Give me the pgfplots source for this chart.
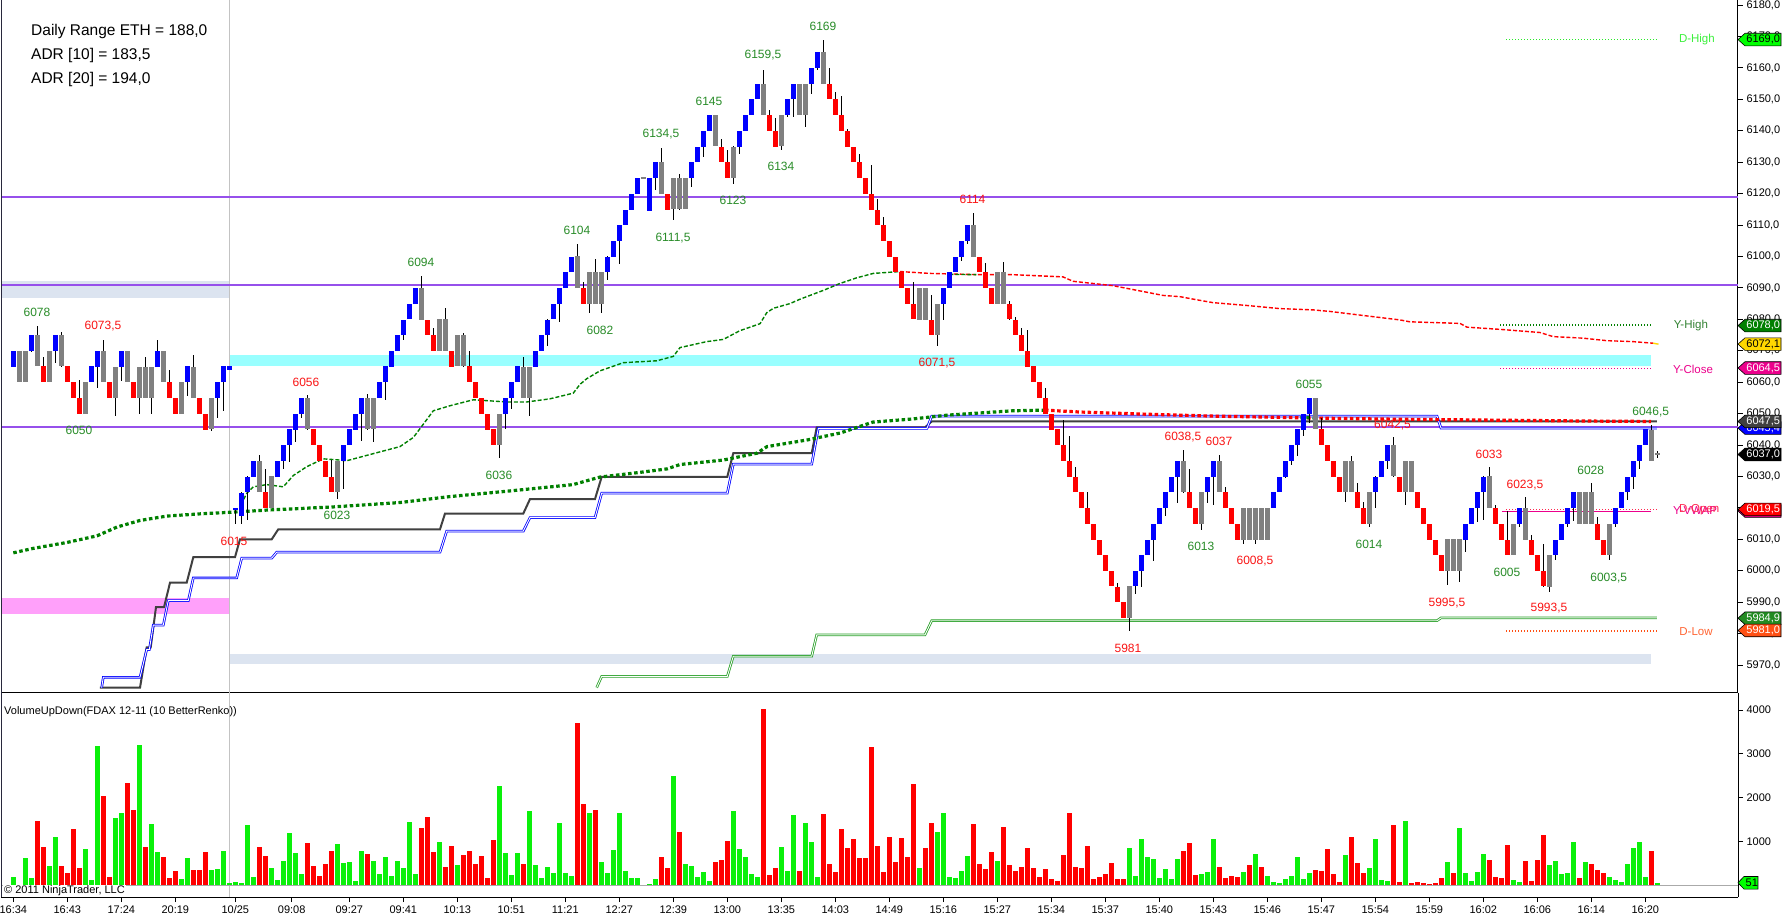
\documentclass[border=0pt]{standalone}
\usepackage{fontspec}
\setmainfont{Liberation Sans}
\usepackage{pgfplots}
\usepackage{pgfplotstable}
\pgfplotsset{compat=1.18}
\definecolor{cblue}{RGB}{0,0,255}
\definecolor{cred}{RGB}{255,0,0}
\definecolor{cgray}{RGB}{128,128,128}
\definecolor{vgreen}{RGB}{10,240,10}
\definecolor{vred}{RGB}{255,0,0}
\definecolor{purp}{RGB}{150,80,235}
\definecolor{lblgreen}{RGB}{40,140,40}
\definecolor{lblred}{RGB}{250,20,20}
\definecolor{dkgreen}{RGB}{0,128,0}
\definecolor{bandcyan}{RGB}{153,255,255}
\definecolor{bandgray}{RGB}{220,228,240}
\definecolor{bandpink}{RGB}{255,160,250}
\definecolor{stepgray}{RGB}{64,64,64}
\definecolor{stepgreen}{RGB}{40,160,40}
\definecolor{lime}{RGB}{0,255,0}
\definecolor{gold}{RGB}{255,215,0}
\definecolor{orred}{RGB}{255,80,20}
\definecolor{fgreen}{RGB}{34,139,34}
\definecolor{borderc}{RGB}{40,40,60}
\pgfplotstableread{
i o c lo hi k v g
0 6065 6070 6065 6070 0 190 1
1 6070 6060 6060 6070 2 0 1
2 6060 6070 6060 6070 2 625 1
3 6070 6075 6069.5 6075 0 168 1
4 6075 6065 6065 6078 2 1463 0
5 6065 6060 6060 6068 1 876 0
6 6060 6070 6060 6070 2 442 1
7 6070 6075 6066.3 6075 0 1105 1
8 6075 6065 6065 6076 2 442 0
9 6065 6060 6060 6065 1 282 0
10 6060 6055 6055 6060 1 1288 0
11 6055 6050 6050 6060.8 1 396 0
12 6050 6060 6050 6060 2 831 1
13 6060 6065 6060 6065 0 122 1
14 6065 6070 6058 6070 0 3185 1
15 6070 6060 6060 6073.5 2 2042 0
16 6060 6055 6055 6060 1 190 0
17 6055 6065 6049.3 6065 2 1539 1
18 6065 6070 6060.6 6070 0 1654 1
19 6070 6060 6060 6070 2 2339 0
20 6060 6055 6055 6060 1 1722 0
21 6055 6065 6050 6065 2 3208 1
22 6065 6055 6055 6068 2 876 0
23 6055 6065 6050 6065 2 1402 1
24 6065 6070 6065 6073.6 0 762 1
25 6070 6060 6060 6070 2 648 0
26 6060 6055 6055 6064 1 168 0
27 6055 6050 6050 6055 1 328 0
28 6050 6060 6050 6060 2 145 1
29 6060 6065 6055.5 6065 0 625 1
30 6065 6055 6055 6068.7 2 351 0
31 6055 6050 6050 6055 1 351 0
32 6050 6045 6045 6050 1 762 0
33 6045 6055 6044.5 6055 2 351 1
34 6055 6060 6048.5 6060 0 373 1
35 6060 6065 6051 6065 0 785 1
36 6064 6065 6064 6065 0 53 1
37 6019.5 6020 6015 6020 0 76 1
38 6017.5 6025 6015 6025 0 53 1
39 6025 6030 6016 6030 0 1379 1
40 6030 6035 6030 6035 0 190 1
41 6035 6025 6025 6037 2 876 0
42 6025 6020 6020 6032.5 1 671 0
43 6020 6030 6020 6030 2 396 1
44 6030 6035 6030 6035 0 122 1
45 6035 6040 6032.5 6040 0 556 1
46 6040 6045 6034.6 6045 0 1196 1
47 6045 6050 6041 6050 0 739 1
48 6050 6055 6048.8 6055 0 259 1
49 6055 6045 6045 6056 2 968 0
50 6045 6040 6040 6045 1 442 0
51 6040 6035 6035 6040 1 213 0
52 6035 6030 6030 6035 1 488 0
53 6030 6025 6025 6035.3 1 785 0
54 6025 6035 6023 6035 2 945 1
55 6035 6040 6026 6040 0 511 1
56 6040 6045 6040 6045 0 533 1
57 6045 6050 6045 6050 0 99 1
58 6050 6055 6041.5 6055 0 785 1
59 6055 6045 6045 6056.4 2 716 0
60 6045 6055 6041 6055 2 556 1
61 6055 6060 6055 6060 0 259 1
62 6060 6065 6054.5 6065 0 648 1
63 6065 6070 6065 6070 0 213 1
64 6070 6075 6070 6075 0 556 1
65 6075 6080 6073.6 6080 0 396 1
66 6080 6085 6080 6085 0 1448 1
67 6085 6090 6085 6090 0 259 1
68 6090 6080 6080 6094 2 1311 0
69 6080 6075 6075 6080 1 1562 0
70 6075 6070 6070 6077.2 1 762 0
71 6070 6080 6070 6080 2 991 1
72 6080 6070 6070 6083.5 2 419 0
73 6070 6065 6065 6070 1 899 0
74 6065 6075 6065 6075 2 465 1
75 6075 6065 6065 6075.8 2 693 0
76 6065 6060 6060 6070 1 785 0
77 6060 6055 6055 6060 1 488 0
78 6055 6050 6050 6055 1 671 0
79 6050 6045 6045 6050 1 168 0
80 6045 6040 6040 6045 1 1036 0
81 6040 6050 6036 6050 2 2271 1
82 6050 6055 6045.3 6055 0 732 1
83 6055 6060 6051.6 6060 0 236 1
84 6060 6065 6060 6065 0 732 1
85 6065 6055 6055 6068 2 488 0
86 6055 6065 6049.3 6065 2 1699 1
87 6065 6070 6065 6070 0 465 1
88 6070 6075 6070 6075 0 168 1
89 6075 6080 6071.5 6080 0 419 1
90 6080 6085 6080 6085 0 282 1
91 6085 6090 6079.3 6090 0 1425 1
92 6090 6095 6090 6095 0 282 1
93 6095 6100 6095 6100 0 213 1
94 6100 6090 6090 6104 2 3711 0
95 6090 6085 6085 6092 1 1859 0
96 6085 6095 6082 6095 2 1654 1
97 6095 6085 6085 6099.2 2 1722 0
98 6085 6095 6082 6095 2 533 1
99 6095 6100 6092.4 6100 0 282 1
100 6100 6105 6100 6105 0 808 1
101 6105 6110 6097.8 6110 0 1654 1
102 6110 6115 6110 6115 0 328 1
103 6115 6120 6115 6120 0 168 1
104 6120 6125 6120 6125 0 168 1
105 6125 6125.3 6125 6125.3 2 0 1
106 6114.5 6125 6114.5 6125 0 30 1
107 6125 6130 6121.2 6130 0 145 1
108 6130 6120 6120 6134.5 2 648 0
109 6120 6115 6115 6120 1 396 0
110 6115 6125 6111.5 6125 2 2499 1
111 6125 6115 6115 6126.2 2 1219 0
112 6115 6125 6115 6125 2 488 1
113 6125 6130 6121.9 6130 0 442 1
114 6130 6135 6130 6135 0 190 1
115 6135 6140 6131.6 6140 0 305 1
116 6140 6145 6140 6145 0 99 1
117 6145 6135 6135 6145 2 533 0
118 6135 6130 6130 6137.6 1 579 0
119 6130 6125 6125 6134 1 1013 0
120 6125 6135 6123 6135 2 1699 1
121 6135 6140 6132.6 6140 0 831 1
122 6140 6145 6140 6145 0 648 1
123 6145 6150 6145 6150 0 259 1
124 6150 6155 6150 6155 0 190 1
125 6155 6145 6145 6159.5 2 4031 0
126 6145 6140 6140 6146.8 1 236 0
127 6140 6135 6135 6144 1 396 0
128 6135 6145 6134 6145 2 876 1
129 6145 6150 6144.6 6150 0 328 1
130 6150 6155 6144.4 6155 0 1608 1
131 6155 6145 6145 6155 2 328 0
132 6145 6155 6141.4 6155 2 1425 1
133 6155 6160 6151.7 6160 0 991 1
134 6160 6165 6159.5 6165 0 190 1
135 6165 6155 6155 6169 2 1631 0
136 6155 6150 6150 6160 1 488 0
137 6150 6145 6145 6152.4 1 305 0
138 6145 6140 6140 6151 1 1288 0
139 6140 6135 6135 6140.4 1 853 0
140 6135 6130 6130 6135 1 1059 0
141 6130 6125 6125 6132.6 1 625 0
142 6125 6120 6120 6125 1 625 0
143 6120 6115 6115 6129 1 3162 0
144 6115 6110 6110 6118.3 1 899 0
145 6110 6105 6105 6112.7 1 305 0
146 6105 6100 6100 6105 1 1105 0
147 6100 6095 6095 6100 1 533 0
148 6095 6090 6090 6095 1 1082 0
149 6090 6085 6085 6090 1 648 0
150 6085 6080 6080 6092 1 2316 0
151 6080 6090 6080 6090 2 396 1
152 6090 6080 6080 6090 2 853 0
153 6080 6075 6075 6087.8 1 1425 0
154 6075 6085 6071.5 6085 2 1219 1
155 6085 6090 6080 6090 0 1654 1
156 6090 6095 6090 6095 0 190 1
157 6095 6100 6095 6100 0 168 1
158 6100 6105 6098.5 6105 0 328 1
159 6105 6110 6104.2 6110 0 671 1
160 6110 6100 6100 6114 2 1402 0
161 6100 6095 6095 6100 1 488 0
162 6095 6090 6090 6097.8 1 373 0
163 6090 6085 6085 6090 1 762 0
164 6085 6095 6085 6095 2 556 1
165 6095 6085 6085 6098.5 2 1334 0
166 6085 6080 6080 6086.1 1 465 0
167 6080 6075 6075 6080.8 1 328 0
168 6075 6070 6070 6077.2 1 419 0
169 6070 6065 6065 6076.5 1 853 0
170 6065 6060 6060 6065 1 396 0
171 6060 6055 6055 6060 1 190 0
172 6055 6050 6050 6058.3 1 373 0
173 6050 6045 6045 6050 1 145 0
174 6045 6040 6040 6045 1 99 0
175 6040 6035 6035 6048 1 693 0
176 6035 6030 6030 6043 1 1654 0
177 6030 6025 6025 6033 1 419 0
178 6025 6020 6020 6025 1 396 0
179 6020 6015 6015 6025.3 1 899 0
180 6015 6010 6010 6015 1 145 0
181 6010 6005 6005 6010 1 190 0
182 6005 6000 6000 6005 1 259 0
183 6000 5995 5995 6000 1 511 0
184 5995 5990 5990 5996.2 1 145 0
185 5990 5985 5985 5990 1 145 0
186 5985 5995 5981 5995 2 853 1
187 5995 6000 5992.7 6000 0 213 1
188 6000 6005 5994.8 6005 0 1059 1
189 6005 6010 6005 6010 0 648 1
190 6010 6015 6003.3 6015 0 602 1
191 6015 6020 6015 6020 0 168 1
192 6020 6025 6017.5 6025 0 373 1
193 6025 6030 6025 6030 0 145 1
194 6030 6035 6021.8 6035 0 602 1
195 6035 6025 6025 6038.5 2 785 0
196 6025 6020 6020 6032.4 1 968 0
197 6020 6015 6015 6020 1 236 0
198 6015 6025 6013 6025 2 259 1
199 6025 6030 6021.8 6030 0 305 1
200 6030 6035 6021.1 6035 0 1059 1
201 6035 6025 6025 6037 2 419 0
202 6025 6020 6020 6026.8 1 168 0
203 6020 6015 6015 6020 1 213 0
204 6015 6010 6010 6015 1 190 0
205 6010 6020 6008.5 6020 2 305 1
206 6020 6010 6010 6020 2 465 0
207 6010 6020 6008.5 6020 2 716 1
208 6020 6010 6010 6020 2 419 0
209 6010 6020 6010 6020 2 213 1
210 6020 6025 6020 6025 0 76 1
211 6025 6030 6025 6030 0 53 1
212 6030 6035 6029.6 6035 0 145 1
213 6035 6040 6033.9 6040 0 213 1
214 6040 6045 6036.7 6045 0 648 1
215 6045 6050 6043 6050 0 145 1
216 6050 6055 6046.9 6055 0 282 1
217 6055 6045 6045 6055 2 351 0
218 6045 6040 6040 6048.5 1 328 0
219 6040 6035 6035 6040 1 831 0
220 6035 6030 6030 6035 1 259 0
221 6030 6025 6025 6030 1 76 0
222 6025 6035 6022 6035 2 693 1
223 6035 6025 6025 6036.5 2 1105 0
224 6025 6020 6020 6027.8 1 511 0
225 6020 6015 6015 6022 1 282 0
226 6015 6025 6014 6025 2 396 1
227 6025 6030 6020 6030 0 1059 1
228 6030 6035 6030 6035 0 122 1
229 6035 6040 6032.6 6040 0 99 1
230 6040 6030 6030 6042.5 2 1379 0
231 6030 6025 6025 6030 1 76 0
232 6025 6035 6021 6035 2 1471 1
233 6035 6025 6025 6035 2 53 0
234 6025 6020 6020 6025 1 69 0
235 6020 6015 6015 6020 1 46 0
236 6015 6010 6010 6015 1 23 0
237 6010 6005 6005 6010 1 46 0
238 6005 6000 6000 6005 1 160 0
239 6000 6010 5995.5 6010 2 526 1
240 6010 6000 6000 6010 2 274 0
241 6000 6010 5996.5 6010 2 1303 1
242 6010 6015 6006 6015 0 274 1
243 6015 6020 6015 6020 0 91 1
244 6020 6025 6015.5 6025 0 297 1
245 6025 6030 6016 6030 0 709 1
246 6030 6020 6020 6033 2 572 0
247 6020 6015 6015 6021 1 183 0
248 6015 6010 6010 6015 1 160 0
249 6010 6005 6005 6019 1 914 0
250 6005 6015 6005 6015 2 114 1
251 6015 6020 6014 6020 0 69 1
252 6020 6010 6010 6023.5 2 549 0
253 6010 6005 6005 6011.5 1 91 0
254 6005 6000 6000 6005 1 572 0
255 6000 5995 5995 6008.7 1 1143 0
256 5995 6005 5993.5 6005 2 457 1
257 6005 6010 6003.4 6010 0 549 1
258 6010 6015 6010 6015 0 251 1
259 6015 6020 6014 6020 0 274 1
260 6020 6025 6016 6025 0 983 1
261 6025 6015 6015 6025 2 160 0
262 6015 6025 6015 6025 2 526 1
263 6025 6015 6015 6028 2 480 0
264 6015 6010 6010 6017 1 343 0
265 6010 6005 6005 6010 1 274 0
266 6005 6015 6003.5 6015 2 183 1
267 6015 6020 6014 6020 0 114 1
268 6020 6025 6020 6025 0 69 1
269 6025 6030 6022.5 6030 0 480 1
270 6030 6035 6026 6035 0 846 1
271 6035 6040 6032.5 6040 0 983 1
272 6040 6045 6040 6045 0 183 1
273 6045 6035 6035 6046.5 2 777 0
274 6037 6037.5 6036 6038 2 51 1
}\bars
\newcommand{\pricetag}[4]{%
  \filldraw[fill=#2, draw=black, line width=0.6pt] (#1) -- ++(7pt,6.3pt) -- ++(36pt,0) -- ++(0,-12.6pt) -- ++(-36pt,0) -- cycle;
  \node[anchor=west, text=#3, font=\fontsize{11}{13}\selectfont, inner sep=0pt] at ([xshift=8.2pt]#1) {#4};}
\begin{document}
\begin{tikzpicture}
\useasboundingbox (0pt,0pt) rectangle (1787pt,921pt);
\fill[white] (0pt,0pt) rectangle (1787pt,921pt);
% ================= PRICE PANEL =================
\begin{axis}[at={(1pt,228pt)}, anchor=south west, scale only axis,
  width=1737pt, height=693pt,
  xmin=-2.05, xmax=287.45, ymin=5961.1, ymax=6181.6,
  axis x line*=bottom, axis y line*=right,
  axis line style={-, black, line width=1pt},
  xtick=\empty, ytick={5970,5980,...,6180},
  tick align=outside, major tick length=5pt,
  tick style={black, line width=0.8pt},
  yticklabel style={font=\fontsize{11}{13}\selectfont, /pgf/number format/.cd, fixed, fixed zerofill, precision=1, use comma, 1000 sep={}, assume math mode=true},
  clip mode=individual]
% bands
\addplot[fill=bandgray, draw=none] coordinates {(-2.05,6086.7) (36,6086.7) (36,6092.2) (-2.05,6092.2)} -- cycle;
\addplot[fill=bandpink, draw=none] coordinates {(-2.05,5986.2) (36,5986.2) (36,5991.3) (-2.05,5991.3)} -- cycle;
\addplot[fill=bandcyan, draw=none] coordinates {(36,6065.3) (272.9,6065.3) (272.9,6068.6) (36,6068.6)} -- cycle;
\addplot[fill=bandgray, draw=none] coordinates {(36,5970.4) (272.9,5970.4) (272.9,5973.5) (36,5973.5)} -- cycle;
% separator
\addplot[draw={rgb,255:red,195;green,195;blue,195}, line width=1pt] coordinates {(36,5961.1) (36,6181.6)};
% purple levels
\addplot[draw=purp, line width=2.2pt] coordinates {(-2.05,6118.8) (287.45,6118.8)};
\addplot[draw=purp, line width=2.2pt] coordinates {(-2.05,6090.8) (287.45,6090.8)};
\addplot[draw=purp, line width=2.2pt] coordinates {(-2.05,6045.8) (287.45,6045.8)};
% step lines
\addplot[draw=stepgreen, double=white, double distance=0.9pt, line width=0.8pt] coordinates {
(97.23,5962.8) (98.07,5966.4) (119.0,5966.4) (120.0,5972.8) (133.07,5972.8) (133.9,5979.6) (151.95,5979.6) (153.07,5984.1) (237.28,5984.1) (237.95,5985.0) (273.95,5985.0)};
\addplot[draw=stepgray, line width=2pt] coordinates {
(14.45,5962.8) (21.12,5962.8) (22.23,5975.6) (22.9,5975.6) (23.78,5988.4) (25.12,5988.4) (26.12,5996.2) (28.9,5996.2) (30.0,6004.3) (36.95,6004.3) (37.78,6010.0) (43.07,6010.0) (44.17,6013.2) (71.12,6013.2) (71.95,6018.2) (85.0,6018.2) (86.12,6022.8) (96.95,6022.8) (98.07,6029.9) (119.0,6029.9) (120.0,6037.4) (133.07,6037.4) (133.9,6045.6) (151.95,6045.6) (153.07,6047.5) (273.95,6047.5)};
\addplot[draw=cblue, double=white, double distance=0.9pt, line width=0.8pt] coordinates {
(14.73,5962.8) (15.0,5966.1) (21.12,5966.1) (22.23,5974.9) (22.67,5974.9) (23.33,5982.7) (25.0,5982.7) (25.83,5990.5) (29.17,5990.5) (30.0,5997.7) (37.23,5997.7) (38.07,6004.0) (43.07,6004.0) (43.9,6005.9) (71.12,6005.9) (72.23,6012.6) (85.0,6012.6) (86.12,6016.9) (96.95,6016.9) (98.07,6024.7) (119.0,6024.7) (120.0,6033.9) (133.07,6033.9) (134.17,6045.3) (152.28,6045.3) (153.07,6049.2) (237.28,6049.2) (237.95,6045.4) (273.95,6045.4)};
% thick dotted VWAP
\addplot[draw=dkgreen, line width=3.2pt, dash pattern=on 3.5pt off 2.6pt] coordinates {
(0,6005.7) (3.28,6007.1) (8.95,6009.0) (13.95,6011.1) (17.28,6013.9) (21.12,6016.0) (25.62,6017.4) (31.12,6018.1) (36.12,6018.6) (42.28,6019.3) (53.28,6020.3) (64.45,6021.7) (72.78,6023.6) (82.28,6025.3) (93.28,6027.4) (97.78,6029.8) (104.45,6031.3) (108.95,6032.4) (111.12,6033.8) (118.28,6035.2) (123.95,6037.4) (125.62,6039.5) (132.28,6041.6) (137.78,6043.8) (143.28,6047.3) (149.95,6048.3) (155.62,6049.5) (161.12,6050.2) (166.62,6050.9) (171.95,6051.1)};
\addplot[draw=cred, line width=3.2pt, dash pattern=on 3.5pt off 2.6pt] coordinates {
(171.95,6051.1) (177.78,6050.5) (188.95,6049.8) (199.95,6049.2) (211.12,6048.8) (219.45,6048.5) (231.12,6048.2) (247.78,6047.9) (264.45,6047.6) (272.95,6047.5)};
\addplot[draw=dkgreen, line width=3.2pt, dash pattern=on 3.5pt off 2.6pt] coordinates {(214.5,6048.7) (217.5,6048.6)};
% thin dashed session VWAP
\addplot[draw=dkgreen, line width=1.4pt, dash pattern=on 4pt off 2pt] coordinates {
(37.95,6021.0) (38.9,6024.6) (40.0,6026.7) (42.23,6027.4) (45.0,6026.7) (46.67,6030.3) (48.9,6033.1) (51.67,6035.6) (53.9,6035.3) (55.57,6035.0) (58.9,6036.7) (61.67,6038.1) (64.45,6039.5) (66.67,6042.4) (68.33,6046.6) (70.0,6050.9) (72.78,6052.5) (76.67,6054.4) (82.23,6053.7) (85.57,6053.7) (89.45,6054.7) (93.33,6056.5) (94.45,6059.3) (95.57,6061.1) (97.78,6063.6) (101.67,6066.2) (107.23,6066.8) (110.0,6068.2) (111.12,6071.0) (115.57,6072.9) (118.33,6073.6) (121.12,6076.4) (124.45,6078.6) (125.57,6082.1) (126.67,6083.5) (129.45,6085.0) (131.12,6086.4) (135.0,6089.2) (137.78,6091.4) (140.57,6093.2) (143.33,6094.6) (147.78,6095.2)};
\addplot[draw=cred, line width=1.4pt, dash pattern=on 4pt off 2pt] coordinates {
(147.78,6095.2) (152.78,6094.6) (161.12,6094.2) (166.62,6094.2) (174.95,6093.5) (176.62,6092.1) (183.28,6090.7) (188.95,6088.6) (191.62,6087.6) (194.45,6087.2) (197.28,6086.2) (199.95,6085.3) (205.62,6084.4) (211.12,6083.4) (216.62,6083.0) (219.45,6082.5) (231.12,6079.8) (232.78,6079.2) (241.12,6078.7) (242.28,6077.5) (247.78,6076.8) (254.45,6075.8) (256.62,6074.5) (261.62,6074.0) (265.62,6073.2) (269.95,6072.9) (273.28,6072.4)};
\addplot[draw=gold, line width=1.4pt] coordinates {(273.28,6072.4) (274.2,6072.1)};
\addplot[draw=dkgreen, line width=1.4pt, dash pattern=on 4pt off 2pt] coordinates {(156,6094.3) (160.5,6094.2)};
% right side level lines
\addplot[draw={rgb,255:red,40;green,235;blue,40}, line width=1.3pt, dash pattern=on 1.3pt off 1.7pt] coordinates {(248.8,6169) (273.95,6169)};
\addplot[draw=dkgreen, line width=1.3pt, dash pattern=on 1.3pt off 1.7pt] coordinates {(247.8,6078.2) (272.95,6078.2)};
\addplot[draw=magenta, line width=1.3pt, dash pattern=on 1.3pt off 1.7pt] coordinates {(247.8,6064.4) (272.95,6064.4)};
\addplot[draw=magenta, line width=1pt] coordinates {(248.1,6019.0) (272.95,6019.0)};
\addplot[draw={rgb,255:red,255;green,40;blue,80}, line width=1.3pt, dash pattern=on 1.3pt off 1.7pt] coordinates {(248.8,6019.5) (273.95,6019.5)};
\addplot[draw=orred, line width=1.3pt, dash pattern=on 1.3pt off 1.7pt] coordinates {(248.8,5980.8) (273.95,5980.8)};
% wicks
\addplot[draw=none, mark=none, error bars/.cd, y dir=both, y explicit, error mark=none,
  error bar style={draw=black, line width=1.2pt, solid}]
  table[x=i, y expr={(\thisrow{lo}+\thisrow{hi})/2}, y error expr={(\thisrow{hi}-\thisrow{lo})/2}] {\bars};
% bodies (error bar length is zero for bars of other classes)
\addplot[draw=none, mark=none, error bars/.cd, y dir=both, y explicit, error mark=none,
  error bar style={draw=cblue, line width=5pt, solid}]
  table[x=i, y expr={(\thisrow{o}+\thisrow{c})/2}, y error expr={\thisrow{k}==0 ? abs(\thisrow{c}-\thisrow{o})/2 : 0}] {\bars};
\addplot[draw=none, mark=none, error bars/.cd, y dir=both, y explicit, error mark=none,
  error bar style={draw=cred, line width=5pt, solid}]
  table[x=i, y expr={(\thisrow{o}+\thisrow{c})/2}, y error expr={\thisrow{k}==1 ? abs(\thisrow{c}-\thisrow{o})/2 : 0}] {\bars};
\addplot[draw=none, mark=none, error bars/.cd, y dir=both, y explicit, error mark=none,
  error bar style={draw=cgray, line width=5pt, solid}]
  table[x=i, y expr={(\thisrow{o}+\thisrow{c})/2}, y error expr={\thisrow{k}==2 ? abs(\thisrow{c}-\thisrow{o})/2 : 0}] {\bars};
% swing labels
\begin{scope}[every node/.style={font=\fontsize{12}{14}\selectfont, inner sep=0pt}]
\node[text=lblgreen] at (axis cs:3.95,6082.2) {6078};
\node[text=lblred] at (axis cs:14.95,6077.9) {6073,5};
\node[text=lblgreen] at (axis cs:10.95,6044.8) {6050};
\node[text=lblred] at (axis cs:36.78,6009.3) {6015};
\node[text=lblred] at (axis cs:48.78,6060.05) {6056};
\node[text=lblgreen] at (axis cs:53.95,6017.5) {6023};
\node[text=lblgreen] at (axis cs:67.95,6098.1) {6094};
\node[text=lblgreen] at (axis cs:80.95,6030.3) {6036};
\node[text=lblgreen] at (axis cs:97.78,6076.5) {6082};
\node[text=lblgreen] at (axis cs:93.95,6108.3) {6104};
\node[text=lblgreen] at (axis cs:109.95,6106.0) {6111,5};
\node[text=lblgreen] at (axis cs:107.95,6138.96) {6134,5};
\node[text=lblgreen] at (axis cs:119.95,6117.7) {6123};
\node[text=lblgreen] at (axis cs:115.95,6149.2) {6145};
\node[text=lblgreen] at (axis cs:127.95,6128.6) {6134};
\node[text=lblgreen] at (axis cs:124.95,6163.96) {6159,5};
\node[text=lblgreen] at (axis cs:134.95,6173.2) {6169};
\node[text=lblred] at (axis cs:159.87,6118.1) {6114};
\node[text=lblred] at (axis cs:153.95,6066.1) {6071,5};
\node[text=lblred] at (axis cs:185.78,5975.4) {5981};
\node[text=lblred] at (axis cs:194.95,6042.4) {6038,5};
\node[text=lblred] at (axis cs:200.95,6041.3) {6037};
\node[text=lblgreen] at (axis cs:197.95,6007.6) {6013};
\node[text=lblred] at (axis cs:206.95,6003.1) {6008,5};
\node[text=lblgreen] at (axis cs:215.95,6059.2) {6055};
\node[text=lblred] at (axis cs:229.87,6046.5) {6042,5};
\node[text=lblgreen] at (axis cs:225.95,6008.4) {6014};
\node[text=lblred] at (axis cs:245.95,6037.0) {6033};
\node[text=lblred] at (axis cs:251.95,6027.4) {6023,5};
\node[text=lblred] at (axis cs:238.95,5989.8) {5995,5};
\node[text=lblgreen] at (axis cs:248.95,5999.5) {6005};
\node[text=lblred] at (axis cs:255.95,5988.0) {5993,5};
\node[text=lblgreen] at (axis cs:262.9,6032.05) {6028};
\node[text=lblgreen] at (axis cs:265.9,5997.8) {6003,5};
\node[text=lblgreen] at (axis cs:272.9,6050.6) {6046,5};
\end{scope}
% right side level texts
\begin{scope}[every node/.style={font=\fontsize{11.5}{13}\selectfont, inner sep=0pt}]
\node[text={rgb,255:red,60;green,240;blue,60}] at (axis cs:280.6,6168.9) {D-High};
\node[text={rgb,255:red,50;green,130;blue,50}] at (axis cs:279.6,6078.1) {Y-High};
\node[text=magenta] at (axis cs:279.95,6064.2) {Y-Close};
\node[text=magenta, anchor=west] at (axis cs:276.6,6019.1) {Y-VWAP};
\node[text={rgb,255:red,255;green,40;blue,80}, anchor=west] at (axis cs:277.6,6019.4) {D-Open};
\node[text={rgb,255:red,255;green,100;blue,50}] at (axis cs:280.45,5980.5) {D-Low};
\end{scope}
\coordinate (tA) at (axis cs:287.45,6169);
\coordinate (tB) at (axis cs:287.45,6078);
\coordinate (tC) at (axis cs:287.45,6072.1);
\coordinate (tD) at (axis cs:287.45,6064.5);
\coordinate (tE) at (axis cs:287.45,6045.4);
\coordinate (tF) at (axis cs:287.45,6047.5);
\coordinate (tG) at (axis cs:287.45,6037);
\coordinate (tH) at (axis cs:287.45,6019.0);
\coordinate (tI) at (axis cs:287.45,6019.5);
\coordinate (tJ) at (axis cs:287.45,5984.9);
\coordinate (tK) at (axis cs:287.45,5981);
\end{axis}
% ================= VOLUME PANEL =================
\begin{axis}[at={(1pt,24pt)}, anchor=south west, scale only axis,
  width=1737pt, height=204pt,
  xmin=-2.05, xmax=287.45, ymin=-274, ymax=4388.6,
  axis x line*=bottom, axis y line*=right,
  axis line style={-, black, line width=1pt},
  ytick={1000,2000,3000,4000},
  xtick={0,9,18,27,37,46.4,56,65,74,83,92,101,110,119,128,137,146,155,164,173,182,191,200,209,218,227,236,245,254,263,272},
  xticklabels={16:34,16:43,17:24,20:19,10/25,09:08,09:27,09:41,10:13,10:51,11:21,12:27,12:39,13:00,13:35,14:03,14:49,15:16,15:27,15:34,15:37,15:40,15:43,15:46,15:47,15:54,15:59,16:02,16:06,16:14,16:20},
  tick align=outside, major tick length=5pt,
  tick style={black, line width=0.8pt},
  xticklabel style={font=\fontsize{11}{13}\selectfont},
  yticklabel style={font=\fontsize{11}{13}\selectfont, /pgf/number format/.cd, fixed, 1000 sep={}, assume math mode=true},
  clip mode=individual]
\addplot[draw={rgb,255:red,195;green,195;blue,195}, line width=1pt] coordinates {(36,-274) (36,4388.6)};
\addplot[draw={rgb,255:red,170;green,170;blue,170}, line width=1pt] coordinates {(-2.05,0) (287.45,0)};
% volume bars drawn as butt-capped segments from 0 to v
\addplot[draw=none, mark=none, error bars/.cd, y dir=plus, y explicit, error mark=none,
  error bar style={draw=vgreen, line width=4.7pt, solid}]
  table[x=i, y expr={0}, y error expr={\thisrow{g}==1 ? \thisrow{v} : 0}] {\bars};
\addplot[draw=none, mark=none, error bars/.cd, y dir=plus, y explicit, error mark=none,
  error bar style={draw=vred, line width=4.7pt, solid}]
  table[x=i, y expr={0}, y error expr={\thisrow{g}==0 ? \thisrow{v} : 0}] {\bars};
\coordinate (tV) at (axis cs:287.45,51);
\end{axis}
% left border
\draw[line width=1pt, draw=borderc] (1.5pt,24pt) -- (1.5pt,921pt);
% texts
\node[anchor=west, font=\fontsize{15.5}{18}\selectfont, inner sep=0pt] at (31pt,889pt) {Daily Range ETH = 188,0};
\node[anchor=west, font=\fontsize{15.5}{18}\selectfont, inner sep=0pt] at (31pt,865pt) {ADR [10] = 183,5};
\node[anchor=west, font=\fontsize{15.5}{18}\selectfont, inner sep=0pt] at (31pt,841pt) {ADR [20] = 194,0};
\node[anchor=west, font=\fontsize{11}{13}\selectfont, inner sep=0pt] at (4pt,209.3pt) {VolumeUpDown(FDAX 12-11 (10 BetterRenko))};
\node[anchor=west, font=\fontsize{11}{13}\selectfont, fill=white, inner sep=1pt] at (3pt,30pt) {© 2011 NinjaTrader, LLC};
% price tags
\pricetag{tA}{lime}{black}{6169,0}
\pricetag{tB}{dkgreen}{white}{6078,0}
\pricetag{tC}{gold}{black}{6072,1}
\pricetag{tD}{magenta}{white}{6064,5}
\pricetag{tE}{cblue}{white}{6045,4}
\pricetag{tF}{stepgray}{white}{6047,5}
\pricetag{tG}{black}{white}{6037,0}
\pricetag{tH}{magenta}{white}{}
\pricetag{tI}{cred}{white}{6019,5}
\pricetag{tJ}{fgreen}{white}{5984,9}
\pricetag{tK}{orred}{white}{5981,0}
\filldraw[fill=lime, draw=black, line width=0.6pt] (tV) -- ++(6pt,6.3pt) -- ++(14pt,0) -- ++(0,-12.6pt) -- ++(-14pt,0) -- cycle;
\node[anchor=west, font=\fontsize{11}{13}\selectfont, inner sep=0pt] at ([xshift=7.5pt]tV) {51};
\end{tikzpicture}
\end{document}
